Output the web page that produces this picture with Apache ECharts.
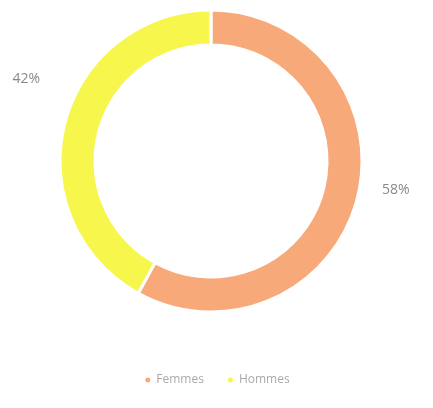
<!DOCTYPE html>
<html><head><meta charset="utf-8">
<script src="https://cdn.jsdelivr.net/npm/echarts@6/dist/echarts.min.js"></script>
<style>html,body{margin:0;padding:0;background:#fff}#c{width:433px;height:408px}</style>
</head><body><div id="c"></div>
<script>
const categories = ['Femmes', 'Hommes'];
const values = [58, 42];
const colors = ['#F7A97A', '#F7F64C'];

const chart = echarts.init(document.getElementById('c'));
chart.setOption({
  animation: false,
  color: colors,
  legend: {
    bottom: 17,
    left: 'center',
    icon: 'circle',
    itemWidth: 7, itemHeight: 7, itemGap: 22,
    textStyle: { color: '#aaa', fontSize: 12, fontFamily: 'Open Sans' },
    data: categories
  },
  series: [{
    type: 'pie',
    center: [211, 161],
    radius: [116, 151],
    startAngle: 90,
    clockwise: true,
    itemStyle: { borderColor: '#fff', borderWidth: 3 },
    label: {
      show: true, position: 'outside',
      formatter: p => p.value + '%',
      color: '#888', fontSize: 14, fontFamily: 'Open Sans'
    },
    labelLine: { show: false, length: 10, length2: 10 },
    labelLayout: p => p.dataIndex === 1 ? { dy: -42 } : { dy: -11 },
    data: categories.map((n, i) => ({ name: n, value: values[i] }))
  }]
});
</script></body></html>
